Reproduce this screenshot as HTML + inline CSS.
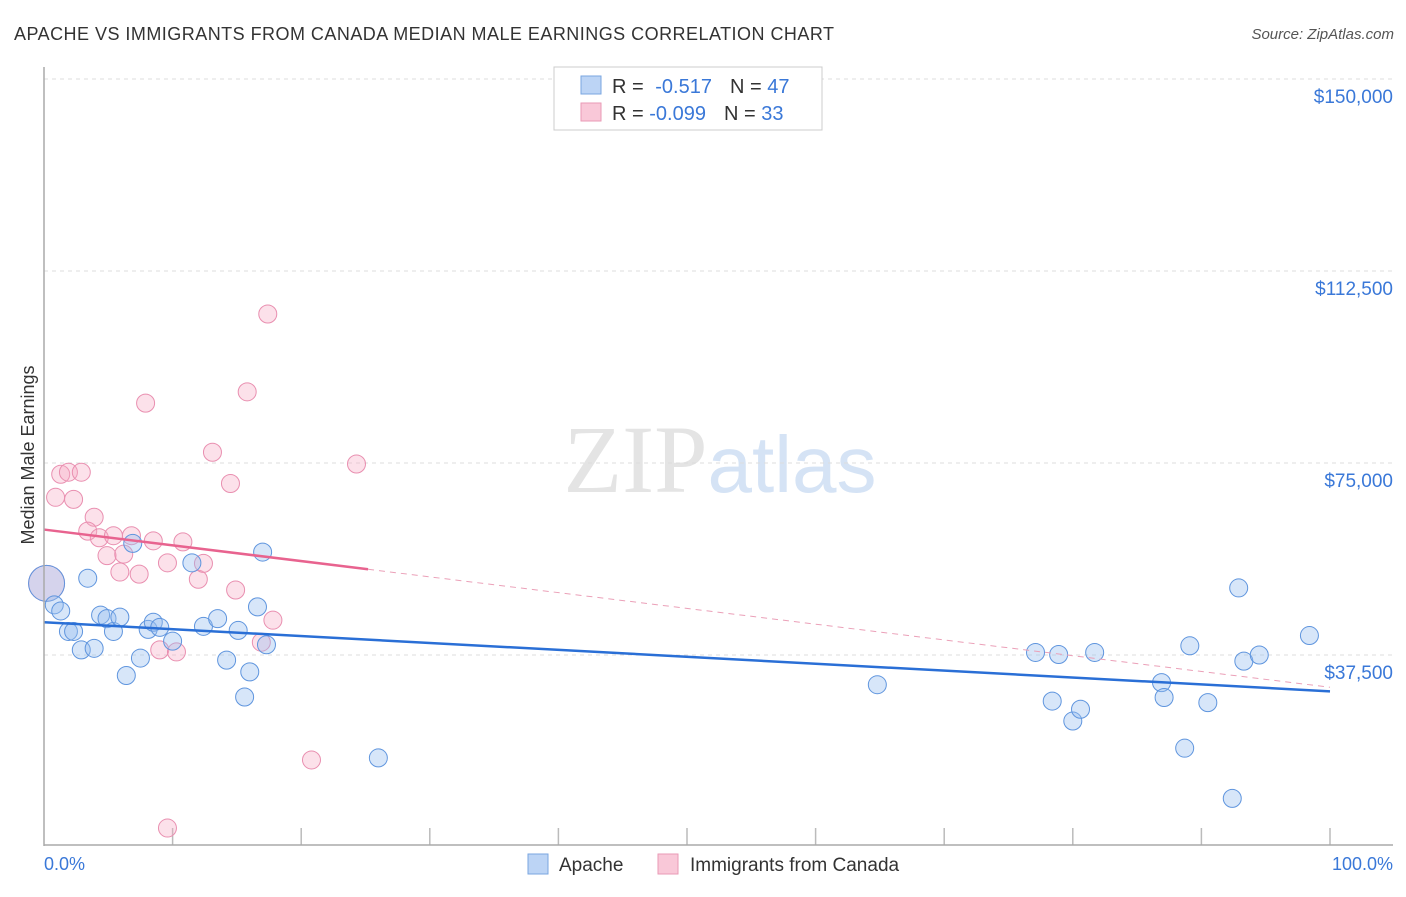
<!DOCTYPE html>
<html><head><meta charset="utf-8"><style>
body{margin:0;background:#fff;font-family:"Liberation Sans",sans-serif;}
svg text{font-family:"Liberation Sans",sans-serif;}
</style></head><body>
<svg id="c" width="1406" height="892">
<text x="14" y="40" font-size="18" fill="#333" textLength="820" lengthAdjust="spacing">APACHE VS IMMIGRANTS FROM CANADA MEDIAN MALE EARNINGS CORRELATION CHART</text>
<text x="1394" y="39" font-size="15" fill="#555" font-style="italic" text-anchor="end">Source: ZipAtlas.com</text>
<text x="34" y="455" font-size="18" fill="#333" transform="rotate(-90 34 455)" text-anchor="middle">Median Male Earnings</text>
<text x="720" y="492" font-size="96" fill="#e4e4e4" text-anchor="middle" font-family="Liberation Serif"><tspan font-family="Liberation Serif">ZIP</tspan><tspan fill="#d5e3f5" font-family="Liberation Sans" font-size="80">atlas</tspan></text>
<g id="grid"></g><g id="pts"></g><g id="lines"></g>
<line x1="44" y1="67" x2="44" y2="846" stroke="#aaa" stroke-width="1.5"/>
<line x1="44" y1="845" x2="1393" y2="845" stroke="#aaa" stroke-width="1.5"/>
<text x="44" y="870" font-size="18" fill="#3a78d8">0.0%</text>
<text x="1393" y="870" font-size="18" fill="#3a78d8" text-anchor="end">100.0%</text>
<g>
<rect x="554" y="67" width="268" height="63" fill="#fff" stroke="#ccc"/>
<rect x="581" y="76" width="20" height="18" fill="#bcd4f5" stroke="#7aa6e0"/>
<rect x="581" y="103" width="20" height="18" fill="#f9c8d8" stroke="#e99ab6"/>
<text x="612" y="93" font-size="20" fill="#333">R = <tspan dx="6" fill="#3a78d8">-0.517</tspan><tspan dx="18">N = </tspan><tspan fill="#3a78d8">47</tspan></text>
<text x="612" y="120" font-size="20" fill="#333">R = <tspan fill="#3a78d8">-0.099</tspan><tspan dx="18">N = </tspan><tspan fill="#3a78d8">33</tspan></text>
</g>
<g>
<rect x="528" y="854" width="20" height="20" fill="#bcd4f5" stroke="#7aa6e0"/>
<text x="559" y="871" font-size="19" fill="#333">Apache</text>
<rect x="658" y="854" width="20" height="20" fill="#f9c8d8" stroke="#e99ab6"/>
<text x="690" y="871" font-size="19" fill="#333">Immigrants from Canada</text>
</g>
</svg>
<script>
const yTicks=[37500,75000,112500,150000];
const yTickLabels=["$37,500","$75,000","$112,500","$150,000"];
const apacheX=[0.2,0.8,1.3,1.9,2.3,2.9,3.9,3.4,4.4,4.9,5.4,5.9,6.4,6.9,7.5,8.1,8.5,9.0,10.0,11.5,12.4,13.5,14.2,15.1,15.6,16.0,16.6,17.0,17.3,26.0,64.8,77.1,78.4,78.9,80.0,80.6,81.7,86.9,87.1,88.7,89.1,90.5,92.4,92.9,93.3,94.5,98.4];
const apacheY=[51500,47300,46100,42100,42100,38500,38800,52500,45300,44600,42100,44900,33500,59300,36900,42500,43900,42900,40200,55500,43100,44600,36500,42300,29300,34200,46900,57600,39500,17400,31700,38000,28500,37600,24600,26900,38000,32100,29200,19300,39300,28200,9500,50600,36300,37500,41300];
const canadaX=[0.2,0.9,1.3,1.9,2.9,2.3,3.9,3.4,4.3,4.9,5.4,5.9,6.2,6.8,7.4,7.9,8.5,9.0,9.6,10.3,10.8,12.0,12.4,13.1,14.5,14.9,15.8,16.9,17.4,17.8,20.8,24.3,9.6];
const canadaY=[51500,68300,72800,73200,73200,67900,64400,61700,60400,56900,60800,53700,57200,60800,53300,86700,59800,38500,55500,38100,59600,52300,55400,77100,71000,50200,88900,40000,104100,44300,17000,74800,3700];
const apacheFit=[43900,30400];
const canadaFit=[62000,31200];
const ns="http://www.w3.org/2000/svg";
const X0=44,X1=1330,Y0=847,PPV=192/37500;
function sx(v){return X0+(X1-X0)*v/100;}
function sy(v){return Y0-v*PPV;}
function mk(t,a,p){const e=document.createElementNS(ns,t);for(const k in a)e.setAttribute(k,a[k]);p.appendChild(e);return e;}
const grid=document.getElementById('grid');
yTicks.forEach((t,i)=>{
  const l=mk('line',{x1:44,x2:1393,y1:sy(t),y2:sy(t),stroke:'#ddd','stroke-dasharray':'4,4'},grid);
  
  
  const tx=mk('text',{x:1393,y:sy(t)+24,'font-size':19,fill:'#3a78d8','text-anchor':'end'},grid);
  tx.textContent=yTickLabels[i];
  
  
});
for(let i=1;i<=10;i++){
  const l=mk('line',{x1:sx(i*10),x2:sx(i*10),y1:828,y2:845,stroke:'#bbb','stroke-width':1.5},grid);
  
  
}
const pts=document.getElementById('pts');
function draw(xs,ys,fill,stroke,name){
  xs.forEach((x,i)=>{
    const c=mk('circle',{cx:sx(x),cy:sy(ys[i]),r:i===0?18:9,fill:fill,stroke:stroke,'stroke-width':1},pts);
    
    
  });
}
draw(canadaX,canadaY,'rgba(245,170,195,0.35)','#e98fb0','canada-point');
draw(apacheX,apacheY,'rgba(150,190,240,0.38)','#5f95de','apache-point');
const lines=document.getElementById('lines');
let l=mk('line',{x1:sx(0),y1:sy(apacheFit[0]),x2:sx(100),y2:sy(apacheFit[1]),stroke:'#2a6fd6','stroke-width':2.5},lines);


const cf=x=>canadaFit[0]+(canadaFit[1]-canadaFit[0])*x/100;
l=mk('line',{x1:sx(0),y1:sy(cf(0)),x2:sx(25.2),y2:sy(cf(25.2)),stroke:'#e8638f','stroke-width':2.5},lines);


l=mk('line',{x1:sx(25.2),y1:sy(cf(25.2)),x2:sx(100),y2:sy(cf(100)),stroke:'#eba0b8','stroke-width':1,'stroke-dasharray':'6,5'},lines);


</script>
</body></html>
